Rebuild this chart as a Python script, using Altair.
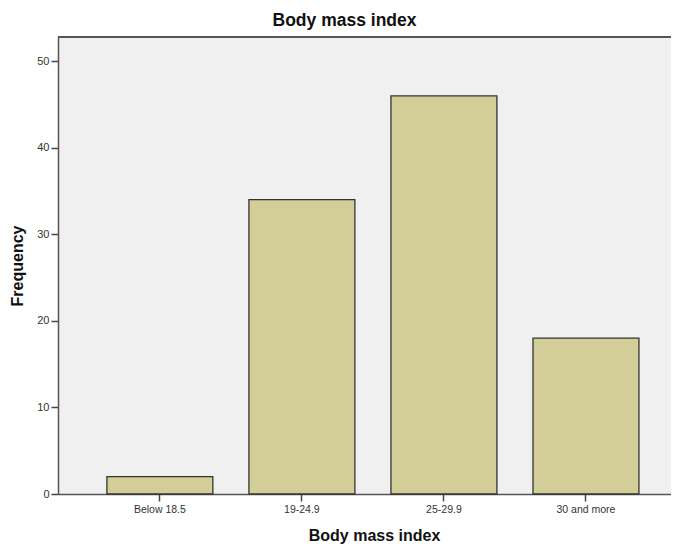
import altair as alt
import pandas as pd

categories = ["Below 18.5", "19-24.9", "25-29.9", "30 and more"]
frequencies = [2, 34, 46, 18]
y_ticks = [0, 10, 20, 30, 40, 50]

df = pd.DataFrame({"bmi": categories, "freq": frequencies})

FONT = "Liberation Sans"
W = 613

bars = alt.Chart(df).mark_bar(
    fill="#d3ce97", stroke="#333333", strokeWidth=1.3
).encode(
    x=alt.X("bmi:N", sort=categories,
            scale=alt.Scale(paddingInner=0.254, paddingOuter=0.285, align=0.604),
            axis=alt.Axis(title="Body mass index", labelAngle=0, titleX=316, titleY=46,
                          titleBaseline="alphabetic", titleFontSize=16, titleFontWeight="bold",
                          titleFont=FONT, titleColor="#111111",
                          labelFont=FONT, labelFontSize=10.5, labelColor="#333333",
                          labelPadding=3, tickSize=7, tickColor="#444444", tickWidth=1.5,
                          domainColor="#555555", domainWidth=1.5)),
    y=alt.Y("freq:Q", scale=alt.Scale(domain=[0, 52.8], nice=False, zero=True),
            axis=alt.Axis(title="Frequency", values=y_ticks, grid=False,
                          titleX=-36, titleBaseline="alphabetic", titleFontSize=16,
                          titleFontWeight="bold", titleFont=FONT, titleColor="#111111",
                          labelFont=FONT, labelFontSize=11, labelColor="#333333",
                          labelPadding=2, tickSize=7, tickColor="#444444", tickWidth=1.5,
                          domainColor="#555555", domainWidth=1.5)),
)

top_border = alt.Chart(df).mark_rule(color="#555555", strokeWidth=2).encode(
    y=alt.value(0), x=alt.value(0), x2=alt.value(W)
)

chart = alt.layer(bars, top_border).properties(
    width=W, height=457,
    title=alt.TitleParams("Body mass index", fontSize=17.5, fontWeight="bold", font=FONT,
                          color="#111111", anchor="middle", dx=-20, dy=15, offset=8,
                          baseline="alphabetic"),
    autosize=alt.AutoSizeParams(type="none"),
    padding={"left": 50, "top": 29, "right": 0, "bottom": 50},
).configure_view(fill="#f0f0f0", stroke=None)

chart.save("out.html", embed_options={"renderer": "svg", "actions": False})
